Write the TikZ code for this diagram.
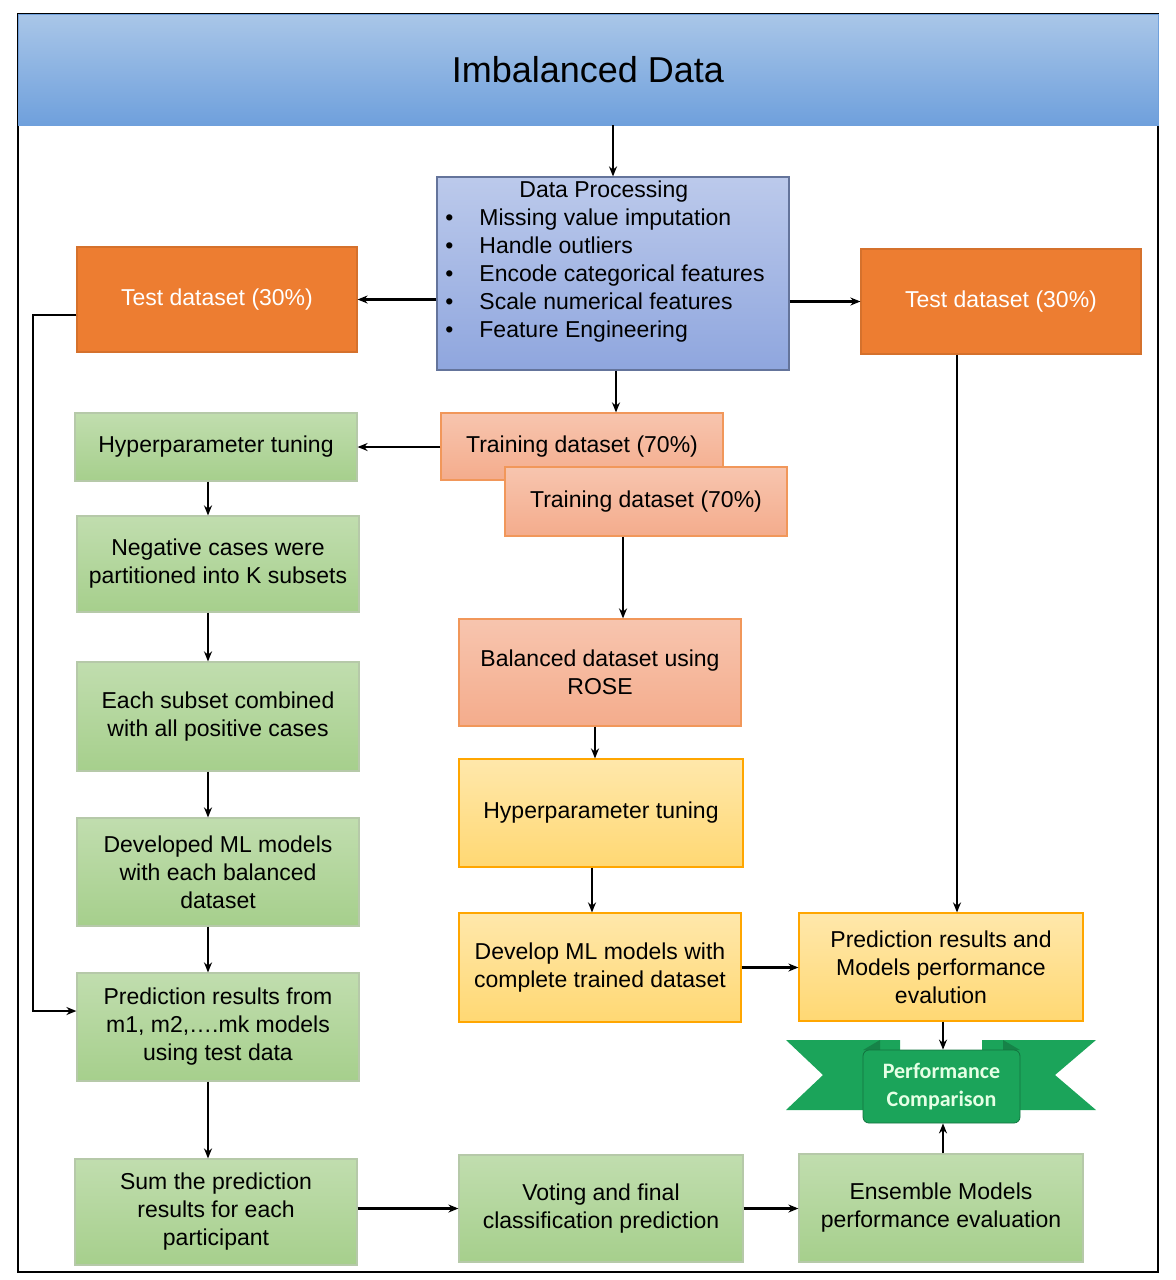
\documentclass[tikz,border=0pt]{standalone}
\usepackage{fontspec}
\setmainfont{Liberation Sans}
\newfontfamily\ribbonfont{Carlito}
\usetikzlibrary{arrows.meta,positioning}
\definecolor{hdrTop}{HTML}{A9C6E8}
\definecolor{hdrBot}{HTML}{6FA0DC}
\definecolor{procCol}{HTML}{8FA6DE}
\definecolor{testCol}{HTML}{ED7D31}
\definecolor{trainCol}{HTML}{F4AC8C}
\definecolor{yelCol}{HTML}{FFD873}
\definecolor{grnCol}{HTML}{A6CF8C}
\definecolor{ribCol}{HTML}{1BA45A}
\tikzset{
  box/.style={draw, line width=0.6pt, align=center, font=\fontsize{11.5}{14}\selectfont, inner sep=2pt},
  greenBox/.style={box, draw=grnCol!80!black!60, top color=grnCol!70!white, bottom color=grnCol},
  testBox/.style={box, draw=testCol!90!black, fill=testCol, text=white},
  trainBox/.style={box, draw=testCol!80, top color=trainCol!70!white, bottom color=trainCol},
  yelBox/.style={box, draw=orange!70!yellow, top color=yelCol!60!white, bottom color=yelCol},
  flow/.style={-{Stealth[length=5pt,width=4pt]}, line width=1.1pt}
}
\begin{document}
\begin{tikzpicture}[x=0.5pt,y=-0.5pt]
\useasboundingbox (0,0) rectangle (1176,1280);
\draw[line width=1pt] (18,14) rectangle (1158,1272);
\node[draw=hdrBot, top color=hdrTop, bottom color=hdrBot, minimum width=570pt, minimum height=55.5pt, font=\fontsize{18}{22}\selectfont] (head) at (588,69.5) {Imbalanced Data};
% data processing
\node[box, draw=procCol!70!black, top color=procCol!60!white, bottom color=procCol, minimum width=176pt, minimum height=96.5pt] (proc) at (613,273.5) {};
\node[font=\fontsize{11.5}{14}\selectfont, align=left, anchor=north west, inner sep=0pt] (procTxt) at (445,180) {\hspace*{37pt}Data Processing\\
\textbullet\hspace{13pt}Missing value imputation\\
\textbullet\hspace{13pt}Handle outliers\\
\textbullet\hspace{13pt}Encode categorical features\\
\textbullet\hspace{13pt}Scale numerical features\\
\textbullet\hspace{13pt}Feature Engineering};
\node[testBox, minimum width=140pt, minimum height=52.5pt] (testL) at (217,299.5) {Test dataset (30\%)};
\node[testBox, minimum width=140pt, minimum height=52.5pt] (testR) at (1001,301.5) {Test dataset (30\%)};
% left column
\node[greenBox, minimum width=141pt, minimum height=34pt] (hypL) at (216,447) {Hyperparameter tuning};
\node[greenBox, minimum width=141pt, minimum height=48pt] (neg) at (218,564) {Negative cases were\\partitioned into K subsets};
\node[greenBox, minimum width=141pt, minimum height=54.5pt] (each) at (218,716.5) {Each subset combined\\with all positive cases};
\node[greenBox, minimum width=141pt, minimum height=54pt] (devL) at (218,872) {Developed ML models\\with each balanced\\dataset};
\node[greenBox, minimum width=141pt, minimum height=54pt] (predL) at (218,1027) {Prediction results from\\m1, m2,\dots.mk models\\using test data};
\node[greenBox, minimum width=141pt, minimum height=53pt] (sum) at (216,1212) {Sum the prediction\\results for each\\participant};
% middle column
\node[trainBox, minimum width=141pt, minimum height=33.5pt] (trainA) at (582,446.5) {Training dataset (70\%)};
\node[trainBox, minimum width=141pt, minimum height=34.5pt] (trainB) at (646,501.5) {Training dataset (70\%)};
\node[trainBox, minimum width=141pt, minimum height=53.5pt] (bal) at (600,672.5) {Balanced dataset using\\ROSE};
\node[yelBox, minimum width=142pt, minimum height=54pt] (hypM) at (601,813) {Hyperparameter tuning};
\node[yelBox, minimum width=141pt, minimum height=54.5pt] (devM) at (600,967.5) {Develop ML models with\\complete trained dataset};
\node[greenBox, minimum width=142pt, minimum height=53.5pt] (vote) at (601,1208.5) {Voting and final\\classification prediction};
% right column
\node[yelBox, minimum width=142pt, minimum height=54pt] (predR) at (941,967) {Prediction results and\\Models performance\\evalution};
\node[greenBox, minimum width=142pt, minimum height=54pt] (ens) at (941,1208) {Ensemble Models\\performance evaluation};
% ribbon
\fill[ribCol] (786,1040) -- (900,1040) -- (900,1110) -- (786,1110) -- (823,1075) -- cycle;
\fill[ribCol] (1096,1040) -- (982,1040) -- (982,1110) -- (1096,1110) -- (1055,1075) -- cycle;
\fill[ribCol!80!black] (863,1050) -- (880,1040) -- (880,1050) -- cycle;
\fill[ribCol!80!black] (1020,1050) -- (1003,1040) -- (1003,1050) -- cycle;
\node[draw=ribCol!70!black, fill=ribCol, rounded corners=3pt, minimum width=78.5pt, minimum height=36.5pt, align=center, text=white!90!green, font=\ribbonfont\bfseries\fontsize{11}{14}\selectfont] (perf) at (941.5,1086.5) {Performance\\Comparison};
% connectors
\draw[flow] (head.south -| 613,0) -- (proc.north -| 613,0);
\draw[flow] (proc.west |- testL) -- (testL.east);
\draw[flow] (proc.east |- testR) -- (testR.west);
\draw[flow] (proc.south -| 616,0) -- (trainA.north -| 616,0);
\draw[flow] (trainA.west |- hypL) -- (hypL.east);
\draw[flow] (hypL.south -| 208,0) -- (neg.north -| 208,0);
\draw[flow] (neg.south -| 208,0) -- (each.north -| 208,0);
\draw[flow] (each.south -| 208,0) -- (devL.north -| 208,0);
\draw[flow] (devL.south -| 208,0) -- (predL.north -| 208,0);
\draw[flow] (predL.south -| 208,0) -- (sum.north -| 208,0);
\draw[flow] (testL.west |- 0,315) -- (33,315) -- (33,1011) -- (predL.west |- 0,1011);
\draw[flow] (trainB.south -| 623,0) -- (bal.north -| 623,0);
\draw[flow] (bal.south -| 595,0) -- (hypM.north -| 595,0);
\draw[flow] (hypM.south -| 592,0) -- (devM.north -| 592,0);
\draw[flow] (devM.east) -- (predR.west |- devM);
\draw[flow] (testR.south -| 957,0) -- (predR.north -| 957,0);
\draw[flow] (predR.south -| 943,0) -- (perf.north -| 943,0);
\draw[flow] (ens.north -| 943,0) -- (perf.south -| 943,0);
\draw[flow] (sum.east |- vote) -- (vote.west);
\draw[flow] (vote.east) -- (ens.west |- vote);
\end{tikzpicture}
\end{document}
